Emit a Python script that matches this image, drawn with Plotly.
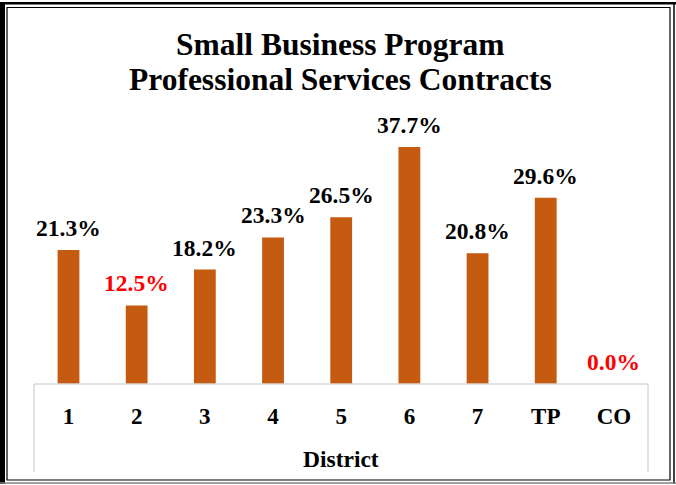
import plotly.graph_objects as go

districts = ["1", "2", "3", "4", "5", "6", "7", "TP", "CO"]
percent = [21.3, 12.5, 18.2, 23.3, 26.5, 37.7, 20.8, 29.6, 0.0]
label_colors = ["#000000", "#FF0000", "#000000", "#000000", "#000000",
                "#000000", "#000000", "#000000", "#FF0000"]
title_lines = ["Small Business Program", "Professional Services Contracts"]
x_title = "District"

W, H = 676, 485
ML, MR, MT, MB = 34, 28, 101, 101
PW, PH = W - ML - MR, H - MT - MB

def px(x):
    return (x - ML) / PW

def py(y):
    return (H - MB - y) / PH

FONT = "Liberation Serif, Times New Roman, serif"

fig = go.Figure()
fig.add_trace(go.Bar(
    x=districts, y=percent,
    marker=dict(color="#C55A11", line=dict(width=0)),
    width=0.32,
    hoverinfo="skip",
))

annotations = []
for i, (v, c) in enumerate(zip(percent, label_colors)):
    annotations.append(dict(
        x=i, y=v, xref="x", yref="y", text=f"<b>{v:.1f}%</b>",
        showarrow=False, xanchor="center", yanchor="middle", yshift=22,
        font=dict(family=FONT, size=23.5, color=c),
    ))

for line, yc in zip(title_lines, [45, 80]):
    annotations.append(dict(
        x=px(340), y=py(yc), xref="paper", yref="paper",
        text=f"<b>{line}</b>",
        showarrow=False, xanchor="center", yanchor="middle",
        font=dict(family=FONT, size=31.5, color="#000000"),
    ))
annotations.append(dict(
    x=px(341), y=py(459), xref="paper", yref="paper",
    text=f"<b>{x_title}</b>", showarrow=False, xanchor="center", yanchor="middle",
    font=dict(family=FONT, size=23.5, color="#000000"),
))

gray = "#D9D9D9"
shapes = [
    # axis box
    dict(type="line", xref="paper", yref="paper", x0=px(34), x1=px(648), y0=py(384), y1=py(384),
         line=dict(color=gray, width=1.5)),
    dict(type="line", xref="paper", yref="paper", x0=px(34), x1=px(34), y0=py(384), y1=py(472),
         line=dict(color=gray, width=1.5)),
    dict(type="line", xref="paper", yref="paper", x0=px(648), x1=px(648), y0=py(384), y1=py(472),
         line=dict(color=gray, width=1.5)),
    # outer frame
    dict(type="rect", xref="paper", yref="paper", x0=px(0), x1=px(5), y0=py(2), y1=py(484),
         fillcolor="#000000", line=dict(width=0)),
    dict(type="rect", xref="paper", yref="paper", x0=px(0), x1=px(676), y0=py(2), y1=py(4.5),
         fillcolor="#000000", line=dict(width=0)),
    dict(type="line", xref="paper", yref="paper", x0=px(674), x1=px(674), y0=py(2), y1=py(484),
         line=dict(color="#000000", width=1.5)),
    dict(type="line", xref="paper", yref="paper", x0=px(0), x1=px(676), y0=py(483), y1=py(483),
         line=dict(color="#808080", width=1.5)),
    # inner frame
    dict(type="rect", xref="paper", yref="paper", x0=px(7), x1=px(670), y0=py(7.5), y1=py(480),
         line=dict(color="#000000", width=1.2), fillcolor="rgba(0,0,0,0)"),
]

fig.update_layout(
    width=W, height=H,
    margin=dict(l=ML, r=MR, t=MT, b=MB),
    paper_bgcolor="#FFFFFF", plot_bgcolor="#FFFFFF",
    showlegend=False,
    xaxis=dict(
        type="category", showgrid=False, showline=False, zeroline=False, ticks="",
        tickfont=dict(family=FONT, size=23, color="#000000"),
        ticklabelstandoff=16,
        tickprefix="<b>", ticksuffix="</b>",
    ),
    yaxis=dict(range=[0, 45], visible=False, showgrid=False, zeroline=False),
    annotations=annotations,
    shapes=shapes,
)

fig.write_html(
    "out.html",
    config={"displayModeBar": False},
    post_script="document.body.style.margin='0';document.body.style.padding='0';",
)
